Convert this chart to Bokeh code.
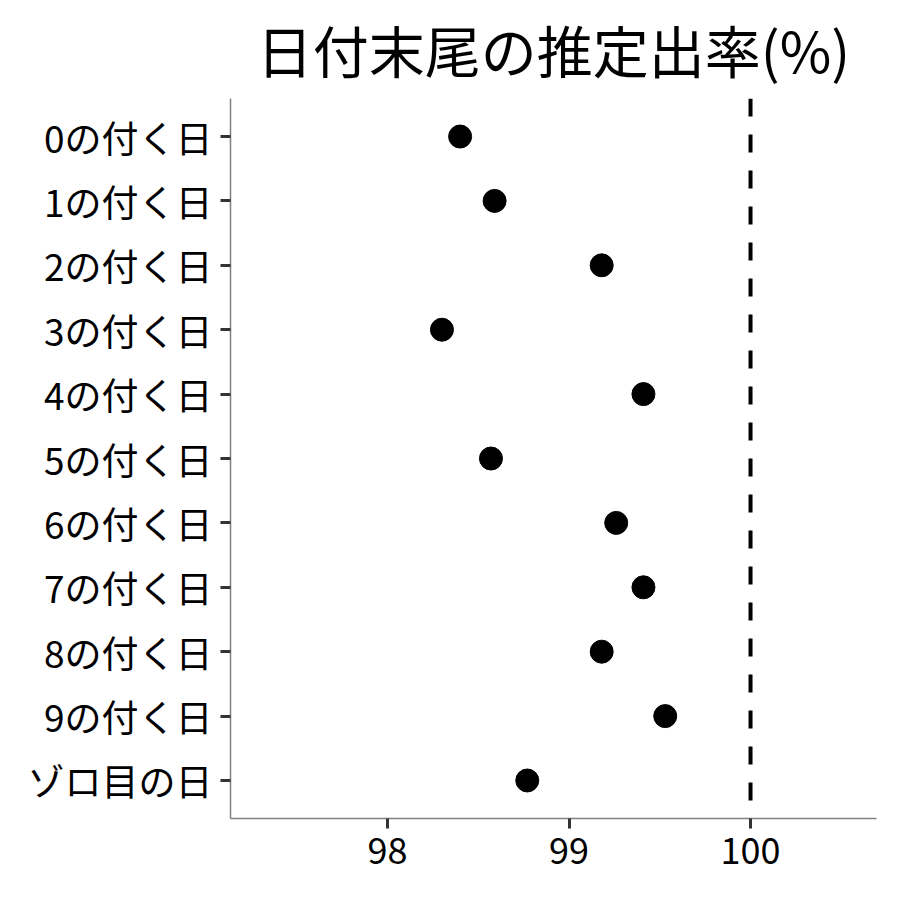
from bokeh.plotting import figure
from bokeh.models import Range1d, FactorRange, FixedTicker, Span, ColumnDataSource
from bokeh.embed import file_html
from bokeh.resources import INLINE

categories = ["0の付く日", "1の付く日", "2の付く日", "3の付く日", "4の付く日",
              "5の付く日", "6の付く日", "7の付く日", "8の付く日", "9の付く日", "ゾロ目の日"]
rates = [98.40, 98.59, 99.18, 98.30, 99.41, 98.57, 99.26, 99.41, 99.18, 99.53, 98.77]
x_ticks = [98, 99, 100]
ref_value = 100
title_text = "日付末尾の推定出率(%)"

FONT = "Noto Sans CJK JP"

p = figure(width=884, height=884, output_backend="svg", toolbar_location=None,
           x_range=Range1d(97.135, 100.694),
           y_range=FactorRange(factors=list(reversed(categories)), range_padding=0.0164),
           min_border_left=230, min_border_right=8, min_border_bottom=66, min_border_top=0)

p.title.text = title_text
p.title.text_font = FONT
p.title.text_font_size = "56px"
p.title.text_font_style = "normal"
p.title.align = "center"
p.title.vertical_align = "top"
p.title.text_color = "black"
p.title.offset = 0
p.title.standoff = 15

src = ColumnDataSource(dict(x=rates, y=categories))
p.scatter("x", "y", source=src, size=23, color="black")

p.add_layout(Span(location=ref_value, dimension="height", line_color="black",
                  line_width=4, line_dash="18 18"))

p.xaxis.ticker = FixedTicker(ticks=x_ticks)
for ax in (p.xaxis[0], p.yaxis[0]):
    ax.major_label_text_font = FONT
    ax.major_label_text_color = "black"
    ax.axis_line_color = "#808080"
    ax.axis_line_width = 1.5
    ax.major_tick_line_color = "#333333"
    ax.major_tick_line_width = 3
    ax.major_tick_out = 10
    ax.major_tick_in = 0
    ax.minor_tick_line_color = None
p.xaxis.major_label_text_font_size = "36px"
p.yaxis.major_label_text_font_size = "37px"
p.xaxis.major_label_standoff = 9
p.yaxis.major_label_standoff = 8

p.xgrid.visible = False
p.ygrid.visible = False
p.outline_line_color = None
p.background_fill_color = "white"
p.border_fill_color = "white"

open("out.html", "w").write(file_html(p, INLINE))
